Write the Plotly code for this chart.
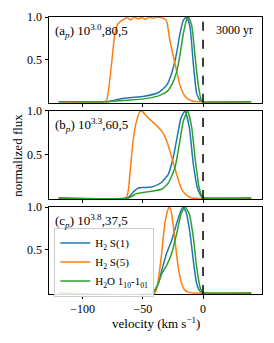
import plotly.graph_objects as go

# ---------------- data ----------------
# panel a
a_s1_v = [-120, -80, -72, -62, -49, -37, -30, -26, -22, -19.2, -16.4, -13.6, -10.8, -8.1, -5.3, -2.5, 0, 40]
a_s1_f = [0, 0, 0.025, 0.047, 0.065, 0.11, 0.2, 0.34, 0.57, 0.8, 0.96, 1.0, 0.88, 0.45, 0.1, 0.02, 0, 0]
a_s5_v = [-120, -82, -80, -76, -73.3, -70.6, -66.4, -63, -60, -57, -54, -51, -48, -45, -42, -38, -34, -30.5, -27.5, -23.3, -19.2, -15, -10.8, -6.7, -3, 40]
a_s5_f = [0, 0, 0.02, 0.45, 0.8, 0.92, 0.97, 0.99, 0.965, 1.0, 0.975, 0.995, 0.97, 1.0, 0.985, 1.0, 0.99, 0.96, 0.72, 0.45, 0.2, 0.066, 0.02, 0.005, 0, 0]
a_h2o_v = [-120, -80, -70, -62, -49, -37, -30, -26, -22, -19.2, -16.4, -13.6, -12.2, -9.4, -6.7, -4, -1.4, 0.5, 40]
a_h2o_f = [0, 0, 0.012, 0.02, 0.035, 0.07, 0.12, 0.2, 0.35, 0.55, 0.8, 0.97, 1.0, 0.9, 0.55, 0.2, 0.02, 0, 0]

# panel b
b_s1_v = [-120, -63, -58.1, -53.9, -48.3, -41.4, -34.4, -28.9, -24.7, -21.1, -18.3, -15, -11.4, -8.1, -4.4, -1.1, 0.5, 40]
b_s1_f = [0, 0, 0.066, 0.115, 0.12, 0.13, 0.18, 0.27, 0.47, 0.73, 0.92, 1.0, 0.81, 0.39, 0.1, 0.01, 0, 0]
b_s5_v = [-120, -64, -60.8, -58.1, -55.3, -52.5, -51, -45.6, -40, -34.4, -30.3, -26.1, -21.9, -17.8, -13.6, -9.4, 40]
b_s5_f = [0, 0, 0.27, 0.66, 0.88, 0.99, 1.0, 0.92, 0.85, 0.77, 0.66, 0.47, 0.27, 0.1, 0.03, 0, 0]
b_h2o_v = [-120, -62, -55.3, -48.3, -41.4, -34.4, -28.9, -23.3, -19.2, -16.4, -12.8, -9.4, -6.7, -3.3, -0.5, 1, 40]
b_h2o_f = [0, 0, 0.05, 0.066, 0.08, 0.1, 0.17, 0.35, 0.66, 0.88, 1.0, 0.81, 0.47, 0.12, 0.01, 0, 0]

# panel c
c_s1_v = [-120, -42, -37.2, -34.4, -30.3, -26.1, -21.9, -18.3, -16.4, -13.6, -10.8, -8.1, -5.3, -2.5, 0, 40]
c_s1_f = [0, 0, 0.11, 0.26, 0.46, 0.61, 0.81, 0.96, 1.0, 0.92, 0.69, 0.38, 0.11, 0.02, 0, 0]
c_s5_v = [-120, -40, -37.2, -34.4, -31.7, -28.9, -27.8, -26.1, -23.3, -20.6, -17.8, -15, -12.2, -8, 40]
c_s5_f = [0, 0, 0.15, 0.46, 0.81, 0.98, 1.0, 0.92, 0.61, 0.30, 0.11, 0.03, 0.01, 0, 0]
c_h2o_v = [-120, -42, -37.2, -34.4, -30.3, -26.1, -21.9, -18.3, -15, -11.4, -8.1, -5.3, -2.5, -0.5, 1, 40]
c_h2o_f = [0, 0, 0.11, 0.22, 0.32, 0.46, 0.69, 0.92, 1.0, 0.92, 0.65, 0.3, 0.07, 0.01, 0, 0]

panel_labels = ["(a<sub><i>p</i></sub>) 10<sup>3.0</sup>,80,5",
                "(b<sub><i>p</i></sub>) 10<sup>3.3</sup>,60,5",
                "(c<sub><i>p</i></sub>) 10<sup>3.8</sup>,37,5"]
series_names = ["H<sub>2</sub> S(1)", "H<sub>2</sub> S(5)", "H<sub>2</sub>O 1<sub>10</sub>-1<sub>01</sub>"]
colors = ["#1f77b4", "#ff7f0e", "#2ca02c"]
age_label = "3000 yr"
x_title = "velocity (km s<sup>−1</sup>)"
y_title = "normalized flux"
x_range = [-128, 49]
y_range = [-0.012, 1.0]
xtick_vals = [-100, -50, 0]
xtick_text = ["−100", "−50", "0"]
ytick_vals = [0.5, 1.0]
ytick_text = ["0.5", "1.0"]

panels = [
    [(a_s1_v, a_s1_f), (a_s5_v, a_s5_f), (a_h2o_v, a_h2o_f)],
    [(b_s1_v, b_s1_f), (b_s5_v, b_s5_f), (b_h2o_v, b_h2o_f)],
    [(c_s1_v, c_s1_f), (c_s5_v, c_s5_f), (c_h2o_v, c_h2o_f)],
]

FONT = "Liberation Serif"
fig = go.Figure()

domains = [[0.690, 1.0], [0.343, 0.661], [0.0, 0.314]]
for i, series in enumerate(panels):
    ax = "" if i == 0 else str(i + 1)
    for j, (v, f) in enumerate(series):
        fig.add_trace(go.Scatter(
            x=v, y=f, mode="lines", name=series_names[j],
            line=dict(color=colors[j], width=1.5, shape="spline", smoothing=0.5),
            xaxis="x" + ax, yaxis="y" + ax,
            showlegend=(i == 2), legendrank=j,
        ))
    axis_common = dict(showline=True, linecolor="black", linewidth=1, mirror=True,
                       ticks="outside", ticklen=3.5, tickwidth=1, tickcolor="black",
                       showgrid=False, zeroline=False, automargin=False,
                       tickfont=dict(family=FONT, size=12, color="black"))
    fig.layout["xaxis" + ax] = dict(axis_common, range=x_range, autorange=False,
                                    anchor="y" + ax, domain=[0, 1],
                                    tickmode="array", tickvals=xtick_vals,
                                    ticktext=xtick_text, showticklabels=(i == 2))
    fig.layout["yaxis" + ax] = dict(axis_common, range=y_range, autorange=False,
                                    anchor="x" + ax, domain=domains[i],
                                    tickmode="array", tickvals=ytick_vals,
                                    ticktext=ytick_text)
    fig.add_shape(type="line", x0=0, x1=0, y0=0, y1=1,
                  xref="x" + ax, yref=("y" + ax + " domain"),
                  line=dict(color="black", width=1.5, dash="dash"))
    fig.add_annotation(text=panel_labels[i], xref="x" + ax + " domain", yref="y" + ax + " domain",
                       x=0.018, y=0.97, xanchor="left", yanchor="top", showarrow=False,
                       font=dict(family=FONT, size=13, color="black"))

fig.add_annotation(text=age_label, xref="x domain", yref="y domain",
                   x=0.965, y=0.95, xanchor="right", yanchor="top", showarrow=False,
                   font=dict(family=FONT, size=12, color="black"))

# axis titles as annotations (exact placement)
fig.add_annotation(text=x_title, xref="paper", yref="paper", x=0.5, y=-0.105,
                   xanchor="center", yanchor="middle", showarrow=False,
                   font=dict(family=FONT, size=13, color="black"))
fig.add_annotation(text=y_title, xref="paper", yref="paper", x=-0.146, y=0.502,
                   xanchor="center", yanchor="middle", textangle=-90, showarrow=False,
                   font=dict(family=FONT, size=13, color="black"))

fig.update_layout(
    width=274, height=343,
    margin=dict(l=49, r=12, t=17, b=49),
    paper_bgcolor="white", plot_bgcolor="white",
    font=dict(family=FONT, size=11, color="black"),
    legend=dict(x=0.025, y=0.24, xanchor="left", yanchor="top",
                bgcolor="rgba(255,255,255,0.85)", bordercolor="#cccccc", borderwidth=1,
                font=dict(family=FONT, size=11, color="black"),
                itemwidth=30, tracegroupgap=0, traceorder="normal"),
)

fig.write_html("out.html", config={"displayModeBar": False},
               post_script="document.body.style.margin='0';document.body.style.padding='0';")
